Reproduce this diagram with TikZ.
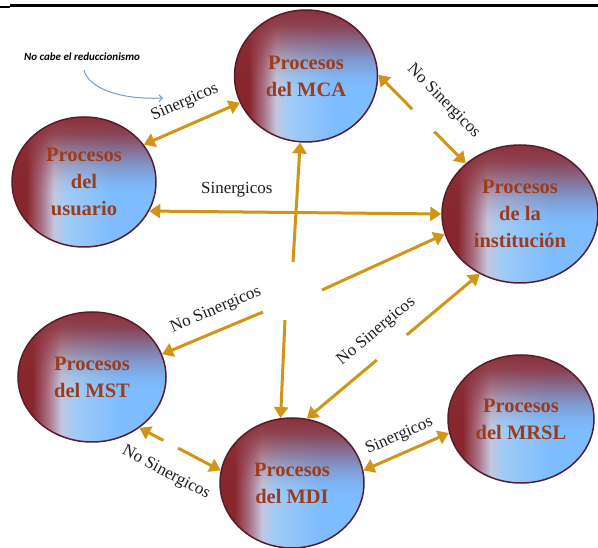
\documentclass[tikz,border=0pt]{standalone}
\usepackage{fontspec}
\setmainfont{Liberation Serif}
\newfontfamily\notefont{Carlito}
\usetikzlibrary{shapes.geometric,arrows.meta,calc,fadings}

% colours
\definecolor{procred}{RGB}{135,38,44}
\definecolor{procmauve}{RGB}{170,110,130}
\definecolor{proctop}{RGB}{140,50,60}
\definecolor{procedge}{RGB}{88,28,44}
\definecolor{proctext}{RGB}{155,60,30}
\definecolor{shpale}{RGB}{195,198,222}
\definecolor{shblueA}{RGB}{160,203,246}
\definecolor{shblueB}{RGB}{125,188,255}
\definecolor{linkgold}{RGB}{208,148,22}
\definecolor{noteblue}{RGB}{120,155,195}
\definecolor{labelgray}{RGB}{30,30,30}

% red band on the left fading into blue
\pgfdeclarehorizontalshading{procshade}{100bp}{
  color(0bp)=(procred); color(25bp)=(procred); color(30bp)=(procred);
  color(35bp)=(procmauve); color(39.5bp)=(shpale); color(44bp)=(shblueA);
  color(60bp)=(shblueB); color(100bp)=(shblueB)}
% red band along the top
\pgfdeclareverticalshading{topfadeshading}{100bp}{
  color(0bp)=(black); color(46bp)=(black); color(50bp)=(black!94!white);
  color(56bp)=(black!75!white); color(63bp)=(black!42!white);
  color(69bp)=(black!12!white); color(75bp)=(white); color(100bp)=(white)}
\pgfdeclarefading{topfade}{\pgfuseshading{topfadeshading}}

\tikzset{
  procnode/.style={ellipse, draw=procedge, line width=1.5pt, shade, shading=procshade,
    inner sep=0pt, align=center, text=proctext,
    font=\bfseries\fontsize{20.5}{27}\selectfont,
    path picture={\fill[proctop, path fading=topfade]
      (path picture bounding box.south west) rectangle (path picture bounding box.north east);}},
  link/.style={draw=linkgold, line width=3pt, >={Triangle[length=11pt,width=14pt]}},
  lbl/.style={text=labelgray, inner sep=0pt, font=\fontsize{17}{20}\selectfont},
  notearrow/.style={draw=noteblue, line width=1pt, -{Straight Barb[length=3.5pt,width=7pt]}}
}

\begin{document}
\begin{tikzpicture}[x=1pt, y=-1pt]
\useasboundingbox (0,0) rectangle (598,548);

% rule along the top
\draw[line width=3pt] (10,5.5) -- (598,5.5);
\draw[line width=2pt] (0,7.5) -- (10,7.5);

% process ellipses
\node[procnode, minimum width=143pt, minimum height=132pt] (mca)  at (306,76)  {Procesos\\del MCA};
\node[procnode, minimum width=144pt, minimum height=130pt] (usu)  at (84,182)  {Procesos\\del\\usuario};
\node[procnode, minimum width=156pt, minimum height=138pt] (inst) at (520,214) {Procesos\\de la\\institución};
\node[procnode, minimum width=148pt, minimum height=130pt] (mst)  at (92,377)  {Procesos\\del MST};
\node[procnode, minimum width=144pt, minimum height=130pt] (mdi)  at (292,483) {Procesos\\del MDI};
\node[procnode, minimum width=146pt, minimum height=128pt] (mrsl) at (521,419) {Procesos\\del MRSL};

% note with its curved pointer
\node[font=\notefont\bfseries\itshape\fontsize{11}{13}\selectfont, inner sep=0pt] (note) at (82,57) {No cabe el reduccionismo};
\coordinate (noteend) at (163,98);
\draw[notearrow, shorten <=9pt] (note.south) .. controls (88,88) and (120,100) .. (noteend);

% free ends of the one-way links
\coordinate (hubA) at (293,262);
\coordinate (hubB) at (322,290);
\coordinate (hubC) at (263,312);
\coordinate (hubD) at (285,320);

% synergic links
\draw[link,<->] (usu.32) -- node[lbl, sloped, above=13pt, pos=0.52] {Sinergicos} (mca.202);
\draw[link,<->] (usu.-24) -- node[lbl, above=13pt, pos=0.3] {Sinergicos} (inst.180);
\draw[link,<->] (mdi.10) -- node[lbl, sloped, above=8pt, pos=0.5] {Sinergicos} (mrsl.191);

% one-way links
\draw[link,->] (hubA) -- (mca.-95);
\draw[link,->] (hubB) -- (inst.195);
\draw[link,<-] (mst.18) -- node[lbl, sloped, above=11pt, pos=0.61] {No Sinergicos} (hubC);
\draw[link,->] (hubD) -- (mdi.100);

% non-synergic links, broken around their labels
\coordinate (ga1) at ($(mca.1)!0.39!(inst.137)$);
\coordinate (ga2) at ($(mca.1)!0.64!(inst.137)$);
\draw[link,<-] (mca.1) -- (ga1);
\draw[link,->] (ga2) -- (inst.137);
\path (mca.1) -- node[lbl, sloped, above=20pt, pos=0.52] {No Sinergicos} (inst.137);

\coordinate (gb1) at ($(mdi.77)!0.405!(inst.236)$);
\coordinate (gb2) at ($(mdi.77)!0.578!(inst.236)$);
\draw[link,<-] (mdi.77) -- (gb1);
\draw[link,->] (gb2) -- (inst.236);
\path (mdi.77) -- node[lbl, sloped, above=14.5pt, pos=0.485] {No Sinergicos} (inst.236);

\coordinate (gc1) at ($(mst.-47)!0.295!(mdi.170)$);
\coordinate (gc2) at ($(mst.-47)!0.477!(mdi.170)$);
\draw[link,<-] (mst.-47) -- (gc1);
\draw[link,->] (gc2) -- (mdi.170);
\path (mst.-47) -- node[lbl, sloped, below=20pt, pos=0.485] {No Sinergicos} (mdi.170);
\end{tikzpicture}
\end{document}
